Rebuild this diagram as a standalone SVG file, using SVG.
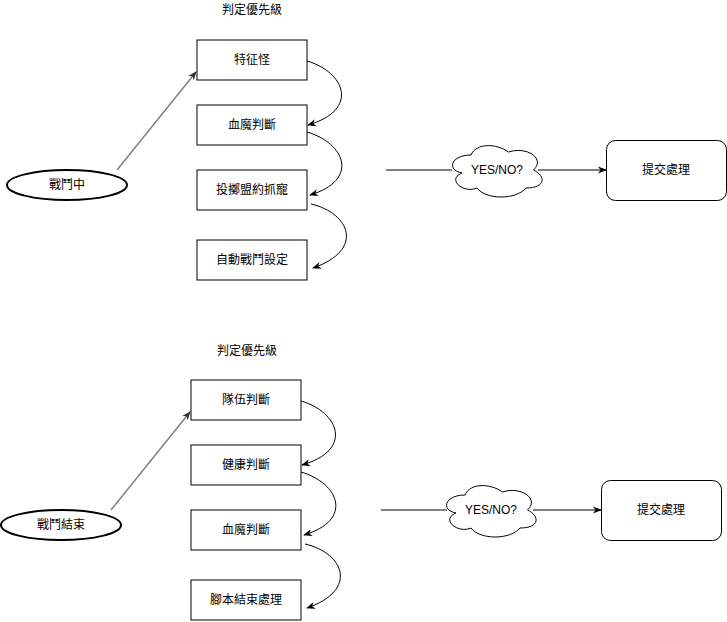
<svg xmlns="http://www.w3.org/2000/svg" width="727" height="622" viewBox="0 0 727 622">
<style>
text{font-family:"Liberation Sans","Noto Sans CJK TC",sans-serif;font-size:12px;fill:#000;text-anchor:middle;dominant-baseline:central}
.box{fill:#fff;stroke:#000;stroke-width:1}
.ell{fill:#fff;stroke:#000;stroke-width:2}
.cloud{fill:#fff;stroke:#000;stroke-width:1}
.edge{fill:none;stroke:#000;stroke-width:1}
.gray{fill:none;stroke:#808080;stroke-width:1.5}
</style>
<defs>
<marker id="arr" viewBox="0 0 10 10" refX="9" refY="5" markerWidth="9" markerHeight="9" markerUnits="userSpaceOnUse" orient="auto">
<path d="M0,1 L10,5 L0,9 L3,5 z" fill="#000"/>
</marker>
<marker id="arrg" viewBox="0 0 10 10" refX="9" refY="5" markerWidth="9" markerHeight="9" markerUnits="userSpaceOnUse" orient="auto">
<path d="M0,1 L10,5 L0,9 L3,5 z" fill="#333"/>
</marker>
</defs>

<text x="252" y="10">判定優先級</text>
<text x="247" y="351">判定優先級</text>

<g id="connectors">
<path class="gray" d="M117,170 L196,72" marker-end="url(#arrg)"/>
<path class="edge" d="M307,61 C345,72 360,110 308,125" marker-end="url(#arr)"/>
<path class="edge" d="M307,132 C345,143 360,180 310,195" marker-end="url(#arr)"/>
<path class="edge" d="M311,204 C350,213 365,250 313,268" marker-end="url(#arr)"/>
<path class="edge" d="M386,170 L452,170"/>
<path class="edge" d="M538,170 L606,170" marker-end="url(#arr)"/>

<path class="gray" d="M111,510 L190,412" marker-end="url(#arrg)"/>
<path class="edge" d="M301,401 C339,412 354,450 302,465" marker-end="url(#arr)"/>
<path class="edge" d="M301,472 C339,483 354,520 304,535" marker-end="url(#arr)"/>
<path class="edge" d="M305,544 C344,553 359,590 307,608" marker-end="url(#arr)"/>
<path class="edge" d="M381,510 L447,510"/>
<path class="edge" d="M533,510 L601,510" marker-end="url(#arr)"/>
</g>

<g id="n-battle"><ellipse class="ell" cx="67" cy="185" rx="60" ry="15"/><text x="67" y="185">戰鬥中</text></g>
<g id="n-feature"><rect class="box" x="197" y="40" width="110" height="40"/><text x="252" y="60">特征怪</text></g>
<g id="n-hp1"><rect class="box" x="197" y="105" width="110" height="40"/><text x="252" y="125">血魔判斷</text></g>
<g id="n-throw"><rect class="box" x="197" y="170" width="110" height="40"/><text x="252" y="190">投擲盟約抓寵</text></g>
<g id="n-auto"><rect class="box" x="197" y="240" width="110" height="40"/><text x="252" y="260">自動戰鬥設定</text></g>
<g id="n-cloud1"><path class="cloud" d="M471,155 C451,155 446,170 462,173 C446,179.6 464,194 477,188 C486,200 516,200 526,188 C546,188 546,176 533.5,170 C546,158 526,146 508.5,152 C496,143 476,143 471,155 Z"/><text x="497" y="170">YES/NO?</text></g>
<g id="n-submit1"><rect class="box" x="606.5" y="140.5" width="120" height="60" rx="9"/><text x="666" y="170">提交處理</text></g>

<g id="n-battleend"><ellipse class="ell" cx="61" cy="525" rx="60" ry="15"/><text x="61" y="525">戰鬥結束</text></g>
<g id="n-team"><rect class="box" x="191" y="380" width="110" height="40"/><text x="246" y="400">隊伍判斷</text></g>
<g id="n-health"><rect class="box" x="191" y="445" width="110" height="40"/><text x="246" y="465">健康判斷</text></g>
<g id="n-hp2"><rect class="box" x="191" y="510" width="110" height="40"/><text x="246" y="530">血魔判斷</text></g>
<g id="n-script"><rect class="box" x="191" y="580" width="110" height="40"/><text x="246" y="600">腳本結束處理</text></g>
<g id="n-cloud2"><path class="cloud" d="M465,495 C445,495 440,510 456,513 C440,519.6 458,534 471,528 C480,540 510,540 520,528 C540,528 540,516 527.5,510 C540,498 520,486 502.5,492 C490,483 470,483 465,495 Z"/><text x="491" y="510">YES/NO?</text></g>
<g id="n-submit2"><rect class="box" x="601.5" y="480.5" width="120" height="60" rx="9"/><text x="661" y="510">提交處理</text></g>
</svg>
